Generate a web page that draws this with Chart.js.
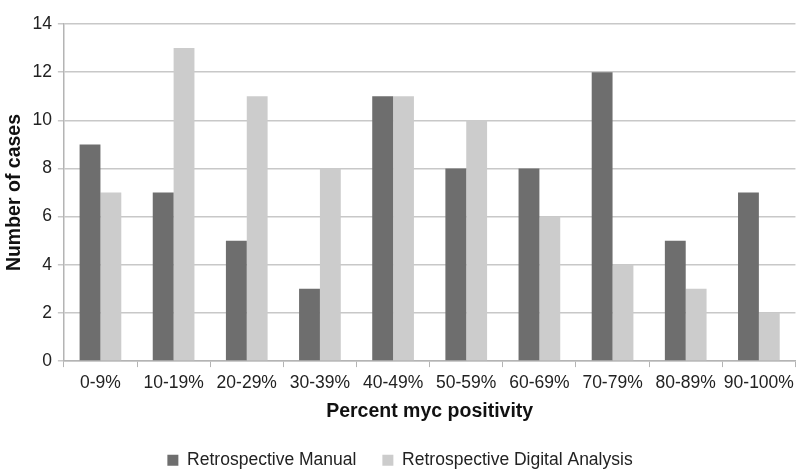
<!DOCTYPE html>
<html>
<head>
<meta charset="utf-8">
<script src="https://cdn.jsdelivr.net/npm/chart.js@4"></script>
<style>
  html, body { margin: 0; padding: 0; background: #fff; }
  #wrap { width: 800px; height: 470px; }
</style>
</head>
<body>
<div id="wrap"><canvas id="c" width="800" height="470"></canvas></div>
<script>
// Data
const categories = ['0-9%', '10-19%', '20-29%', '30-39%', '40-49%', '50-59%', '60-69%', '70-79%', '80-89%', '90-100%'];
const manual = [9, 7, 5, 3, 11, 8, 8, 12, 5, 7];
const digital = [7, 13, 11, 8, 11, 10, 6, 4, 3, 2];
const seriesNames = ['Retrospective Manual', 'Retrospective Digital Analysis'];

const FONT = "'Liberation Sans', Arial, sans-serif";
const AXIS_GREY = '#b4b4b4';

new Chart(document.getElementById('c'), {
  type: 'bar',
  data: {
    labels: categories,
    datasets: [
      { label: seriesNames[0], data: manual, backgroundColor: '#6e6e6e', categoryPercentage: 0.57, barPercentage: 1 },
      { label: seriesNames[1], data: digital, backgroundColor: '#cccccc', categoryPercentage: 0.57, barPercentage: 1 },
    ],
  },
  options: {
    responsive: false, animation: false,
    layout: { padding: { top: 24, right: 2, left: 2, bottom: -9 } },
    plugins: {
      legend: {
        position: 'bottom',
        labels: { boxWidth: 11, boxHeight: 11, padding: 26, color: '#222', font: { family: FONT, size: 17.5 } },
      },
      tooltip: { enabled: false },
    },
    scales: {
      x: {
        grid: { display: true, drawOnChartArea: false, offset: true, color: AXIS_GREY, tickLength: 6 },
        border: { color: AXIS_GREY, width: 1.5 },
        ticks: { color: '#222', font: { family: FONT, size: 17.5 }, padding: 6, maxRotation: 0, autoSkip: false },
        title: { display: true, text: 'Percent myc positivity', color: '#111', font: { family: FONT, size: 19.5, weight: 'bold' }, padding: { top: 0, bottom: 2 } },
      },
      y: {
        min: 0, max: 14,
        grid: { color: '#c8c8c8', lineWidth: 1.5, tickLength: 6 },
        border: { color: AXIS_GREY, width: 1.5 },
        ticks: { stepSize: 2, color: '#222', font: { family: FONT, size: 17.5 }, padding: 6 },
        title: { display: true, text: 'Number of cases', color: '#111', font: { family: FONT, size: 19.5, weight: 'bold' }, padding: { top: 1, bottom: 0 } },
      },
    },
  },
});
</script>
</body>
</html>
